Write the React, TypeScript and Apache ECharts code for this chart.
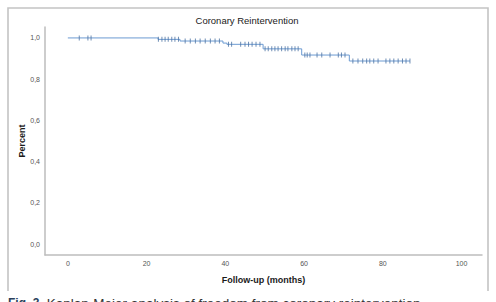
import React, { useEffect, useRef } from "react";
import * as echarts from "echarts";

// Kaplan-Meier step points (time in months, cumulative survival)
const eventTimes = [0, 22.9, 28.5, 39.4, 40.4, 49.6, 59.4, 71.5, 86.9];
const survival = [1.0, 0.993, 0.985, 0.975, 0.969, 0.947, 0.917, 0.888, 0.888];

// Censored observations (months)
const censoredTimes = [
  2.9, 5.1, 5.9,
  23.0, 23.9, 24.7, 25.5, 26.4, 27.2, 28.1,
  29.8, 31.1, 32.4, 33.6, 34.9, 36.2, 37.4, 38.5,
  40.8, 41.6, 43.9, 45.0, 45.9, 46.8, 47.8, 48.8,
  50.1, 50.9, 51.8, 52.6, 53.4, 54.3, 55.2, 55.9, 56.9, 57.7, 58.5,
  60.2, 60.8, 61.5, 63.3, 64.5, 66.6, 68.7, 69.5, 70.4,
  72.4, 73.7, 74.9, 75.9, 76.7, 77.7, 78.8, 80.8, 81.8, 82.8, 83.9, 85.0, 85.9, 86.9,
];

const xTicks = [0, 20, 40, 60, 80, 100];
const yTicks = [0, 0.2, 0.4, 0.6, 0.8, 1.0];

const titleText = "Coronary Reintervention";
const xName = "Follow-up (months)";
const yName = "Percent";
const captionBold = "Fig. 3";
const captionText = "  Kaplan-Meier analysis of freedom from coronary reintervention";

function survivalAt(t: number): number {
  let s = survival[0];
  for (let i = 0; i < eventTimes.length; i++) {
    if (eventTimes[i] <= t) s = survival[i];
  }
  return s;
}

export default function App() {
  const ref = useRef<HTMLDivElement>(null);

  useEffect(() => {
    if (!ref.current) return;
    const chart = echarts.init(ref.current, null, { renderer: "svg" });
    const font = "'Liberation Sans', Arial, sans-serif";
    const lineData = eventTimes.map((t, i) => [t, survival[i]]);
    const censorData = censoredTimes.map((t) => [t, survivalAt(t)]);

    chart.setOption({
      animation: false,
      backgroundColor: "#ffffff",
      textStyle: { fontFamily: font },
      grid: { left: 45, right: 14, top: 27, bottom: 47, containLabel: false },
      xAxis: {
        type: "value",
        min: -5.8,
        max: 105.2,
        name: xName,
        nameLocation: "middle",
        nameGap: 20,
        nameMoveOverlap: false,
        nameTextStyle: { fontSize: 9, fontWeight: "bold", color: "#1a1a1a", fontFamily: font },
        axisLine: { show: true, onZero: false, lineStyle: { color: "#bdbdbd", width: 1.5 } },
        axisTick: { show: false },
        splitLine: { show: false },
        axisLabel: {
          customValues: xTicks,
          fontSize: 7,
          color: "#555555",
          margin: 5,
          fontFamily: font,
        },
      },
      yAxis: {
        type: "value",
        min: -0.053,
        max: 1.053,
        name: yName,
        nameLocation: "middle",
        nameGap: 19,
        nameMoveOverlap: false,
        nameTextStyle: { fontSize: 9, fontWeight: "bold", color: "#1a1a1a", fontFamily: font },
        axisLine: { show: true, onZero: false, lineStyle: { color: "#bdbdbd", width: 1.5 } },
        axisTick: { show: false },
        splitLine: { show: false },
        axisLabel: {
          customValues: yTicks,
          fontSize: 7,
          color: "#555555",
          margin: 5,
          fontFamily: font,
          formatter: (v: number) => v.toFixed(1).replace(".", ","),
        },
      },
      graphic: [
        {
          type: "polyline",
          shape: { points: [[8, 291], [8, 8], [488, 8], [488, 291]] },
          style: { stroke: "#c4c4c4", lineWidth: 1.6, fill: "none" },
          silent: true,
        },
        {
          type: "text",
          x: 247,
          y: 20,
          style: {
            text: titleText,
            fontSize: 9.5,
            fill: "#1a1a1a",
            fontFamily: font,
            align: "center",
            verticalAlign: "middle",
          },
        },
        {
          type: "text",
          x: 8,
          y: 296,
          style: {
            text: "{b|" + captionBold + "}{n|" + captionText + "}",
            fontFamily: font,
            verticalAlign: "top",
            rich: {
              b: { fontSize: 12, fontWeight: "bold", fill: "#2b3f5c", fontFamily: font },
              n: { fontSize: 13.5, fill: "#333333", fontFamily: font },
            },
          },
        },
      ],
      series: [
        {
          type: "line",
          step: "end",
          data: lineData,
          showSymbol: false,
          lineStyle: { color: "#6c9bd2", width: 1 },
          z: 2,
        },
        {
          type: "scatter",
          data: censorData,
          symbol: "rect",
          symbolSize: [1, 5],
          itemStyle: { color: "#4b72a3" },
          z: 3,
        },
      ],
    });

    return () => chart.dispose();
  }, []);

  return (
    <div
      ref={ref}
      style={{ position: "fixed", left: 0, top: 0, width: 496, height: 302 }}
    />
  );
}
